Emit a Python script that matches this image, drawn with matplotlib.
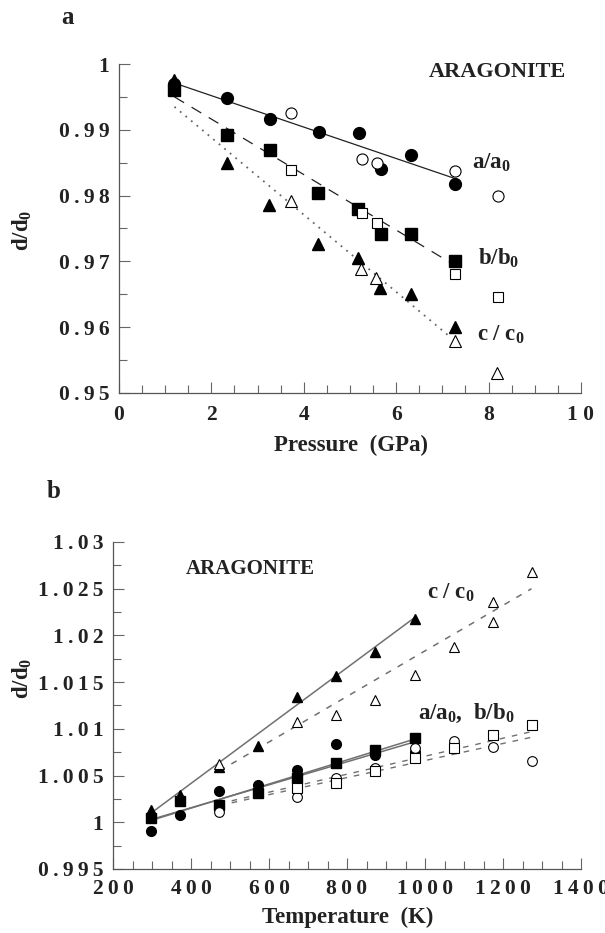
import matplotlib
matplotlib.use("Agg")
import matplotlib.pyplot as plt
from matplotlib.ticker import MultipleLocator, FixedLocator

plt.rcParams['font.family'] = ['Liberation Serif', 'DejaVu Serif']
plt.rcParams['font.weight'] = 'bold'
plt.rcParams['mathtext.fontset'] = 'custom'
plt.rcParams['mathtext.rm'] = 'Liberation Serif:bold'
plt.rcParams['mathtext.it'] = 'Liberation Serif:bold'
plt.rcParams['mathtext.bf'] = 'Liberation Serif:bold'

# ---------------- Panel a data (pressure, GPa) ----------------
pa_a_filled = [1.2, 2.34, 3.27, 4.33, 5.19, 5.67, 6.33, 7.27]
da_a_filled = [0.9970, 0.9949, 0.9916, 0.9896, 0.9895, 0.9841, 0.9861, 0.9818]
pa_a_open = [3.72, 5.26, 5.58, 7.27, 8.20]
da_a_open = [0.9926, 0.9856, 0.9850, 0.9838, 0.9800]

pa_b_filled = [1.2, 2.34, 3.27, 4.31, 5.17, 5.67, 6.33, 7.27]
da_b_filled = [0.9961, 0.9892, 0.9870, 0.9804, 0.9780, 0.9742, 0.9741, 0.9700]
pa_b_open = [3.72, 5.26, 5.58, 7.27, 8.20]
da_b_open = [0.9839, 0.9773, 0.9758, 0.9681, 0.9646]

pa_c_filled = [1.2, 2.33, 3.25, 4.31, 5.17, 5.66, 6.31, 7.27]
da_c_filled = [0.9975, 0.9850, 0.9785, 0.9727, 0.9705, 0.9660, 0.9650, 0.9600]
pa_c_open = [3.72, 5.24, 5.57, 7.27, 8.19]
da_c_open = [0.9792, 0.9688, 0.9675, 0.9579, 0.9531]

fit_a_p = [1.2, 7.27]
fit_a_d = [0.9971, 0.9826]
fit_b_p = [1.2, 7.2]
fit_b_d = [0.9950, 0.9697]
fit_c_p = [1.2, 7.12]
fit_c_d = [0.9935, 0.9588]

ticks_a_x = [0, 2, 4, 6, 8, 10]
ticklabels_a_x = ["0", "2", "4", "6", "8", "1 0"]
ticks_a_y = [0.95, 0.96, 0.97, 0.98, 0.99, 1.0]
ticklabels_a_y = ["0.95", "0.96", "0.97", "0.98", "0.99", "1"]

# ---------------- Panel b data (temperature, K) ----------------
tb_c_filled = [298, 373, 473, 573, 673, 773, 873, 973]
db_c_filled = [1.0013, 1.0029, 1.0059, 1.0082, 1.0134, 1.0157, 1.0182, 1.0218]
tb_c_open = [473, 673, 773, 873, 973, 1073, 1173, 1173, 1273]
db_c_open = [1.0062, 1.0107, 1.0115, 1.0131, 1.0158, 1.0188, 1.0214, 1.0236, 1.0268]

tb_a_filled = [298, 373, 473, 573, 673, 773, 873, 973]
db_a_filled = [0.9991, 1.0008, 1.0034, 1.0040, 1.0056, 1.0084, 1.0072, 1.0075]
tb_b_filled = [298, 373, 473, 573, 673, 773, 873, 973]
db_b_filled = [1.0005, 1.0023, 1.0018, 1.0031, 1.0047, 1.0063, 1.0077, 1.0090]

tb_a_open = [473, 673, 773, 873, 973, 1073, 1173, 1273]
db_a_open = [1.0011, 1.0027, 1.0047, 1.0058, 1.0080, 1.0087, 1.0081, 1.0066]
tb_b_open = [673, 773, 873, 973, 1073, 1173, 1273]
db_b_open = [1.0037, 1.0042, 1.0055, 1.0069, 1.0079, 1.0093, 1.0104]

fitb_c_filled_t = [298, 973]
fitb_c_filled_d = [1.0010, 1.0219]
fitb_c_open_t = [473, 1273]
fitb_c_open_d = [1.0055, 1.0250]
fitb_a_filled_t = [298, 973]
fitb_a_filled_d = [1.0003, 1.0086]
fitb_b_filled_t = [298, 973]
fitb_b_filled_d = [1.0002, 1.0089]
fitb_a_open_t = [473, 1273]
fitb_a_open_d = [1.0018, 1.0091]
fitb_b_open_t = [473, 1273]
fitb_b_open_d = [1.0020, 1.0097]

ticks_b_x = [200, 400, 600, 800, 1000, 1200, 1400]
ticklabels_b_x = ["200", "400", "600", "800", "1000", "1200", "1400"]
ticks_b_y = [0.995, 1.0, 1.005, 1.01, 1.015, 1.02, 1.025, 1.03]
ticklabels_b_y = ["0.995", "1", "1.005", "1.01", "1.015", "1.02", "1.025", "1.03"]

TXT = "#222222"


def spaced(s):
    if " " in s:
        return s
    return "\u2009".join(list(s))


def style_axes(ax):
    for sp in ("top", "right"):
        ax.spines[sp].set_visible(False)
    for sp in ("left", "bottom"):
        ax.spines[sp].set_color("#555555")
        ax.spines[sp].set_linewidth(0.9)
    ax.tick_params(which="both", direction="in", color="#666666", width=0.8,
                   labelsize=15.5, pad=7)
    ax.tick_params(which="major", length=8)
    ax.tick_params(which="minor", length=6)
    ax.tick_params(axis="x", pad=9)
    for lab in ax.get_xticklabels() + ax.get_yticklabels():
        lab.set_fontweight("bold")
        lab.set_color(TXT)


fig = plt.figure(figsize=(6.05, 9.33), dpi=100)

# ================= Panel a =================
ax1 = fig.add_axes([0.1967, 0.5788, 0.7636, 0.3526])
ax1.plot(fit_a_p, fit_a_d, color=TXT, lw=0.9, ls="-")
ax1.plot(fit_b_p, fit_b_d, color=TXT, lw=0.9, ls=(0, (9, 7)))
ax1.plot(fit_c_p, fit_c_d, color="#666666", lw=1.3, ls=(0, (1, 3)))

ms_f, ms_o = 8.5, 8.0
ax1.plot(pa_a_filled, da_a_filled, "o", color="black", ms=ms_f, ls="none")
ax1.plot(pa_a_open, da_a_open, "o", mfc="white", mec="black", mew=0.8, ms=ms_o, ls="none")
ax1.plot(pa_b_filled, da_b_filled, "s", color="black", ms=ms_f - 0.5, ls="none")
ax1.plot(pa_b_open, da_b_open, "s", mfc="white", mec="black", mew=0.8, ms=ms_o - 0.5, ls="none")
ax1.plot(pa_c_filled, da_c_filled, "^", color="black", ms=ms_f, ls="none")
ax1.plot(pa_c_open, da_c_open, "^", mfc="white", mec="black", mew=0.8, ms=ms_o, ls="none")

ax1.set_xlim(0, 10)
ax1.set_ylim(0.95, 1.0)
ax1.xaxis.set_major_locator(FixedLocator(ticks_a_x))
ax1.xaxis.set_minor_locator(MultipleLocator(0.5))
ax1.yaxis.set_major_locator(FixedLocator(ticks_a_y))
ax1.yaxis.set_minor_locator(MultipleLocator(0.005))
ax1.set_xticklabels([spaced(s) for s in ticklabels_a_x])
ax1.set_yticklabels([spaced(s) for s in ticklabels_a_y])
style_axes(ax1)

ax1.set_xlabel("Pressure  (GPa)", fontsize=16.5, fontweight="bold", color=TXT)
ax1.xaxis.set_label_coords(0.502, -0.16)
ax1.xaxis.label.set_va("center")
ax1.set_ylabel("d/d$_0$", fontsize=16.5, fontweight="bold", color=TXT)
ax1.yaxis.set_label_coords(-0.21, 0.495)
ax1.yaxis.label.set_va("center")

ax1.text(0.82, 0.976, "ARAGONITE", transform=ax1.transAxes, ha="center", va="center",
         fontsize=16, fontweight="bold", color=TXT)
ax1.text(0.764, 0.70, "a/a$_0$", transform=ax1.transAxes, ha="left", va="center",
         fontsize=16.5, fontweight="bold", color=TXT)
ax1.text(0.777, 0.41, "b/b$_0$", transform=ax1.transAxes, ha="left", va="center",
         fontsize=16.5, fontweight="bold", color=TXT)
ax1.text(0.775, 0.176, "c / c$_0$", transform=ax1.transAxes, ha="left", va="center",
         fontsize=16.5, fontweight="bold", color=TXT)

fig.text(0.112, 0.981, "a", fontsize=18, fontweight="bold", ha="center", va="center",
         color=TXT)

# ================= Panel b =================
ax2 = fig.add_axes([0.1868, 0.0686, 0.7736, 0.3505])
gray = "#707070"
ax2.plot(fitb_c_filled_t, fitb_c_filled_d, color=gray, lw=1.1, ls="-")
ax2.plot(fitb_a_filled_t, fitb_a_filled_d, color=gray, lw=1.1, ls="-")
ax2.plot(fitb_b_filled_t, fitb_b_filled_d, color=gray, lw=1.1, ls="-")
ax2.plot(fitb_c_open_t, fitb_c_open_d, color=gray, lw=1.1, ls=(0, (4, 5)))
ax2.plot(fitb_a_open_t, fitb_a_open_d, color=gray, lw=1.0, ls=(0, (4, 5)))
ax2.plot(fitb_b_open_t, fitb_b_open_d, color=gray, lw=1.0, ls=(0, (4, 5)))

mb_f, mb_o = 7.0, 7.0
ax2.plot(tb_a_filled, db_a_filled, "o", color="black", ms=mb_f, ls="none")
ax2.plot(tb_b_filled, db_b_filled, "s", color="black", ms=mb_f - 0.5, ls="none")
ax2.plot(tb_c_filled, db_c_filled, "^", color="black", ms=mb_f, ls="none")
ax2.plot(tb_a_open, db_a_open, "o", mfc="white", mec="black", mew=0.8, ms=mb_o, ls="none")
ax2.plot(tb_b_open, db_b_open, "s", mfc="white", mec="black", mew=0.8, ms=mb_o - 0.5, ls="none")
ax2.plot(tb_c_open, db_c_open, "^", mfc="white", mec="black", mew=0.8, ms=mb_o, ls="none")

ax2.set_xlim(200, 1400)
ax2.set_ylim(0.995, 1.03)
ax2.xaxis.set_major_locator(FixedLocator(ticks_b_x))
ax2.xaxis.set_minor_locator(MultipleLocator(50))
ax2.yaxis.set_major_locator(FixedLocator(ticks_b_y))
ax2.yaxis.set_minor_locator(MultipleLocator(0.0025))
ax2.set_xticklabels([spaced(s) for s in ticklabels_b_x])
ax2.set_yticklabels([spaced(s) for s in ticklabels_b_y])
style_axes(ax2)
ax2.tick_params(axis="x", pad=7)

ax2.set_xlabel("Temperature  (K)", fontsize=16.5, fontweight="bold", color=TXT)
ax2.xaxis.set_label_coords(0.502, -0.147)
ax2.xaxis.label.set_va("center")
ax2.set_ylabel("d/d$_0$", fontsize=16.5, fontweight="bold", color=TXT)
ax2.yaxis.set_label_coords(-0.194, 0.584)
ax2.yaxis.label.set_va("center")

ax2.text(0.293, 0.917, "ARAGONITE", transform=ax2.transAxes, ha="center", va="center",
         fontsize=15, fontweight="bold", color=TXT)
ax2.text(0.671, 0.844, "c / c$_0$", transform=ax2.transAxes, ha="left", va="center",
         fontsize=16.5, fontweight="bold", color=TXT)
ax2.text(0.652, 0.477, "a/a$_0$,  b/b$_0$", transform=ax2.transAxes, ha="left", va="center",
         fontsize=16.5, fontweight="bold", color=TXT)

fig.text(0.088, 0.4727, "b", fontsize=18, fontweight="bold", ha="center", va="center",
         color=TXT)

fig.savefig("out.png", dpi=100, facecolor="white")
